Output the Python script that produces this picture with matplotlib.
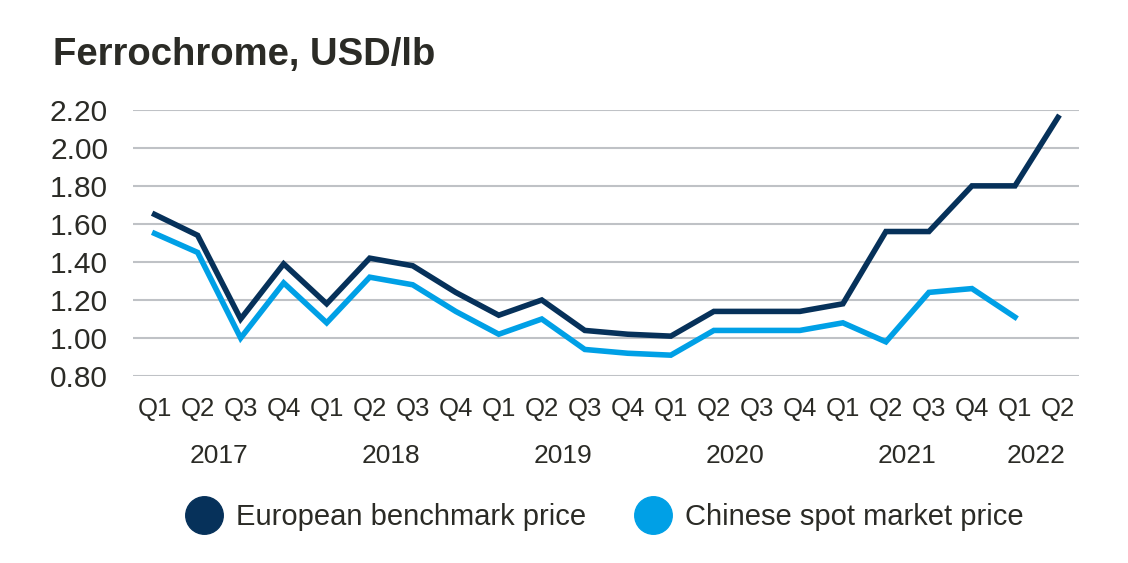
import matplotlib
matplotlib.use("Agg")
from matplotlib import pyplot as plt
from matplotlib.lines import Line2D
import matplotlib.transforms as mtransforms

quarters = ['Q1', 'Q2', 'Q3', 'Q4'] * 5 + ['Q1', 'Q2']
years = ['2017', '2018', '2019', '2020', '2021', '2022']
year_quarters = [4, 4, 4, 4, 4, 2]

european = [1.65, 1.54, 1.10, 1.39, 1.18, 1.42, 1.38, 1.24, 1.12, 1.20, 1.04,
            1.02, 1.01, 1.14, 1.14, 1.14, 1.18, 1.56, 1.56, 1.80, 1.80, 2.16]
chinese = [1.55, 1.45, 1.00, 1.29, 1.08, 1.32, 1.28, 1.14, 1.02, 1.10, 0.94,
           0.92, 0.91, 1.04, 1.04, 1.04, 1.08, 0.98, 1.24, 1.26, 1.11]

plt.rcParams['font.family'] = ['Liberation Sans', 'DejaVu Sans']
text_color = '#2b2b26'
navy = '#06315a'
blue = '#00a0e6'

fig = plt.figure(figsize=(11.28, 5.63), dpi=100)
ax = fig.add_axes([0.118, 0.332, 0.839, 0.473])

ax.plot(range(len(european)), european, color=navy, lw=4, solid_joinstyle='miter')
ax.plot(range(len(chinese)), chinese, color=blue, lw=4, solid_joinstyle='miter')

ax.set_xlim(-0.5, len(quarters) - 0.5)
ax.set_ylim(0.8, 2.2)
yt = [0.8 + 0.2 * i for i in range(8)]
ax.set_yticks(yt)
ax.set_yticklabels(['%.2f' % v for v in yt], fontsize=21.5, color=text_color)
ax.set_xticks(range(len(quarters)))
ax.set_xticklabels(quarters, fontsize=18.5, color=text_color)
ax.tick_params(axis='both', length=0)
ax.tick_params(axis='y', pad=18)
ax.tick_params(axis='x', pad=15)
ax.grid(axis='y', color='#bfc2c6', lw=1.5)
ax.set_axisbelow(True)
for s in ax.spines.values():
    s.set_visible(False)

trans = mtransforms.blended_transform_factory(ax.transData, fig.transFigure)
start = 0
for yr, n in zip(years, year_quarters):
    ax.text(start + (n - 1) / 2, 1 - 456 / 563, yr, transform=trans,
            ha='center', va='center', fontsize=19, color=text_color)
    start += n

fig.text(53 / 1128, 1 - 55 / 563, 'Ferrochrome, USD/lb', fontsize=27.5,
         fontweight='bold', color=text_color, va='center', ha='left')

handles = [Line2D([], [], ls='', marker='o', markersize=27, color=navy),
           Line2D([], [], ls='', marker='o', markersize=27, color=blue)]
fig.legend(handles, ['European benchmark price', 'Chinese spot market price'],
           loc='center', bbox_to_anchor=(0.531, 1 - 517 / 563), ncol=2,
           frameon=False, fontsize=21, handletextpad=0.1, columnspacing=1.3,
           labelcolor=text_color)

fig.savefig('out.png', dpi=100)
